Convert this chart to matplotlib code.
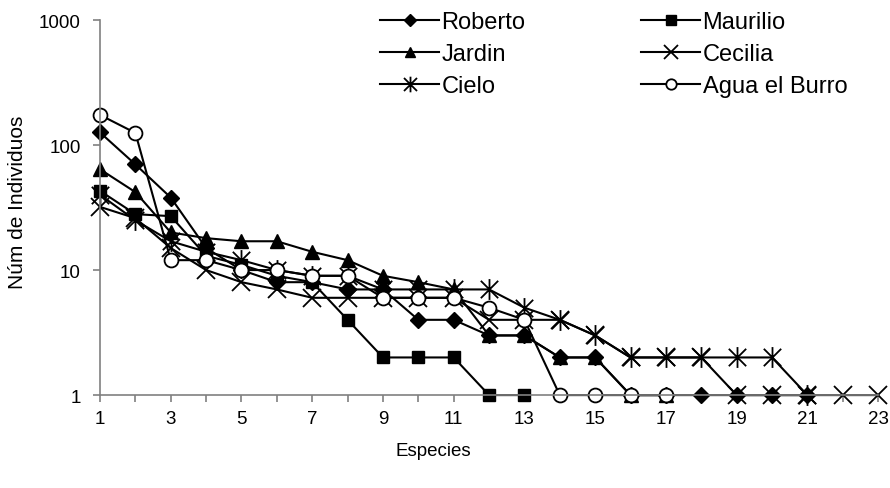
import matplotlib
matplotlib.use('Agg')
import matplotlib.pyplot as plt
import numpy as np
from matplotlib.path import Path
from matplotlib.ticker import FixedLocator, NullFormatter

plt.rcParams['font.family'] = ['Liberation Sans', 'DejaVu Sans']

# Number of individuals per species rank, by site
roberto = [126, 70, 38, 15, 10, 8, 8, 7, 7, 4, 4, 3, 3, 2, 2, 1, 1, 1, 1, 1, 1]
maurilio = [43, 28, 27, 13, 11, 9, 8, 4, 2, 2, 2, 1, 1]
jardin = [64, 42, 20, 18, 17, 17, 14, 12, 9, 8, 7, 3, 3, 2, 2, 1, 1]
cecilia = [32, 26, 15, 10, 8, 7, 6, 6, 6, 6, 6, 4, 4, 4, 3, 2, 2, 2, 1, 1, 1, 1, 1]
cielo = [40, 25, 17, 14, 12, 10, 9, 9, 7, 7, 7, 7, 5, 4, 3, 2, 2, 2, 2, 2, 1]
agua = [174, 125, 12, 12, 10, 10, 9, 9, 6, 6, 6, 5, 4, 1, 1, 1, 1]

# asterisk marker: X plus vertical bar
star = Path([(-1, -1), (1, 1), (-1, 1), (1, -1), (0, -1.2), (0, 1.2)],
            [Path.MOVETO, Path.LINETO, Path.MOVETO, Path.LINETO, Path.MOVETO, Path.LINETO])

fig = plt.figure(figsize=(8.9, 4.89), dpi=100)
ax = fig.add_axes([0.1124, 0.19, 0.8742, 0.767])

lw = 1.5
def series(vals, label, **kw):
    x = np.arange(1, len(vals) + 1)
    line, = ax.plot(x, vals, color='black', lw=lw, label=label, clip_on=False, **kw)
    return line

h_rob = series(roberto, 'Roberto', marker='D', ms=8, mfc='black', mec='black')
h_jar = series(jardin, 'Jardin', marker='^', ms=10.5, mfc='black', mec='black')
h_cie = series(cielo, 'Cielo', marker=star, ms=15, mfc='none', mec='black', mew=1.3)
h_mau = series(maurilio, 'Maurilio', marker='s', ms=9, mfc='black', mec='black')
h_cec = series(cecilia, 'Cecilia', marker='x', ms=13, mec='black', mew=1.3)
h_agu = series(agua, 'Agua el Burro', marker='o', ms=10, mfc='white', mec='black', mew=1.3)

ax.set_yscale('log')
ax.set_ylim(1, 1000)
ax.set_xlim(1, 23)
ax.yaxis.set_major_locator(FixedLocator([1, 10, 100, 1000]))
ax.yaxis.set_minor_locator(FixedLocator([]))
ax.set_yticklabels(['1', '10', '100', '1000'])
ax.set_xticks(range(1, 24, 2))
ax.set_xticks(range(2, 23, 2), minor=True)
ax.xaxis.set_minor_formatter(NullFormatter())

for s in ['top', 'right']:
    ax.spines[s].set_visible(False)
for s in ['left', 'bottom']:
    ax.spines[s].set_color('#808080')
    ax.spines[s].set_linewidth(1.2)
ax.tick_params(which='both', direction='out', length=5, width=1.2, color='#808080',
               labelsize=13.5)
ax.tick_params(axis='y', pad=9)
ax.tick_params(axis='x', pad=6)

ax.set_xlabel('Especies', fontsize=13.5)
ax.xaxis.set_label_coords(0.428, -0.125)
ax.set_ylabel('Núm de Individuos', fontsize=15)
ax.yaxis.set_label_coords(-0.094, 0.517)

ax.legend([h_rob, h_jar, h_cie, h_mau, h_cec, h_agu],
          ['Roberto', 'Jardin', 'Cielo', 'Maurilio', 'Cecilia', 'Agua el Burro'],
          ncol=2, frameon=False, fontsize=17, handlelength=2.5, handletextpad=0.1,
          columnspacing=4.9, labelspacing=0.43, loc='upper left', borderpad=0,
          borderaxespad=0, bbox_to_anchor=(0.36, 1.024), markerscale=0.75)

fig.savefig('out.png', dpi=100)
